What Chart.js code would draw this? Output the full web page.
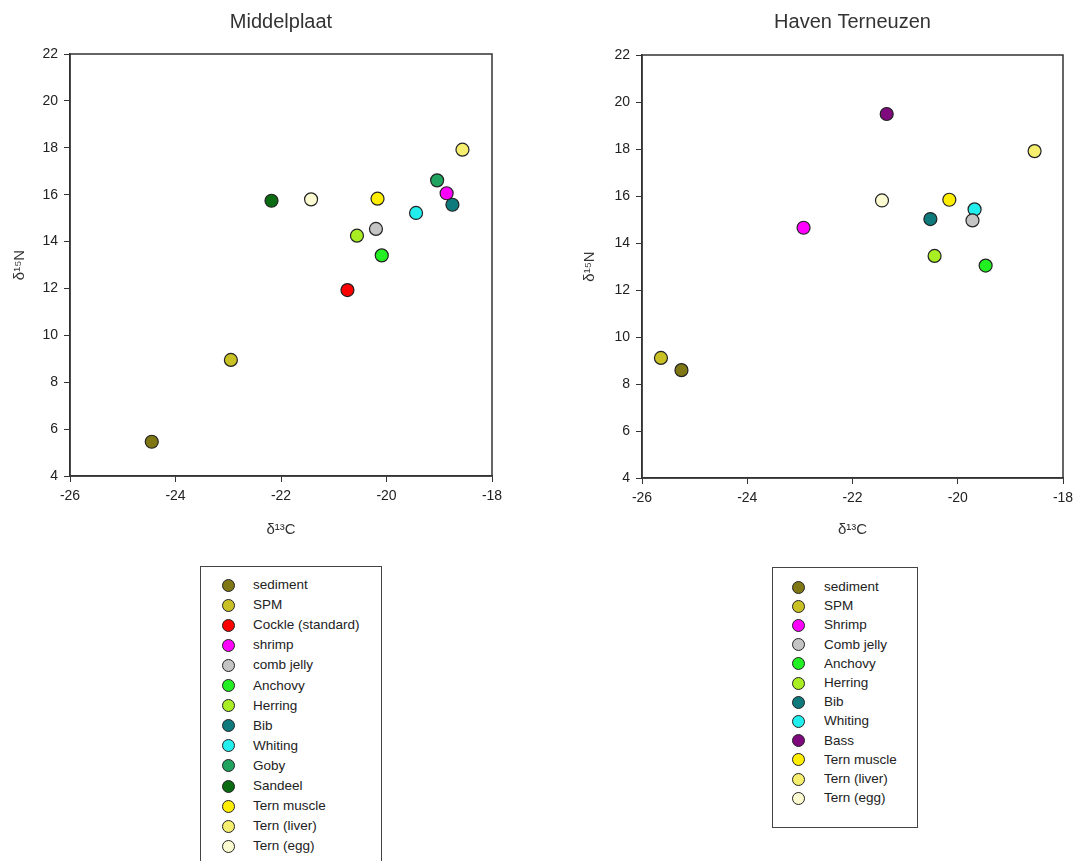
<!DOCTYPE html>
<html>
<head>
<meta charset="utf-8">
<script src="https://cdn.jsdelivr.net/npm/chart.js@4.4.0/dist/chart.umd.min.js"></script>
<style>
  html, body { margin: 0; background: #fff; overflow: hidden; font-family: Arial, "Liberation Sans", sans-serif; }
  body { width: 1075px; height: 861px; position: relative; }
  .panel { position: absolute; top: 0; height: 560px; }
  .legend { position: absolute; border: 1px solid #444; box-sizing: border-box; background: #fff; }
  .legend .dot { position: absolute; width: 13px; height: 13px; border-radius: 50%;
                 border: 1.2px solid #222; box-sizing: border-box; }
  .legend .lbl { position: absolute; font-size: 13.5px; color: #222; line-height: 20px; white-space: nowrap; }
</style>
</head>
<body>
<div class="panel" style="left:0;width:530px"><canvas id="mid"></canvas></div>
<div class="panel" style="left:545px;width:530px"><canvas id="hav"></canvas></div>
<div class="legend" id="midLegend" style="left:200px;top:566px;width:182px;height:310px"></div>
<div class="legend" id="havLegend" style="left:772px;top:567px;width:146px;height:261px"></div>

<script>
// Middelplaat
const midNames = ['sediment', 'SPM', 'Cockle (standard)', 'shrimp', 'comb jelly', 'Anchovy', 'Herring',
                  'Bib', 'Whiting', 'Goby', 'Sandeel', 'Tern muscle', 'Tern (liver)', 'Tern (egg)'];
const midColors = ['#7f7614', '#c9c124', '#ff0000', '#ff00ff', '#c4c4c4', '#22f022', '#a8ee22',
                   '#0e7a7c', '#22eeee', '#1fa35f', '#0b6b12', '#ffee00', '#f6ee6e', '#fbfad0'];
const midX = [-24.45, -22.95, -20.74, -18.86, -20.2, -20.09, -20.56, -18.75, -19.44, -19.04, -22.18, -20.17, -18.56, -21.43];
const midY = [5.46, 8.95, 11.93, 16.06, 14.54, 13.41, 14.25, 15.57, 15.22, 16.61, 15.74, 15.83, 17.92, 15.8];

// Haven Terneuzen
const havNames = ['sediment', 'SPM', 'Shrimp', 'Comb jelly', 'Anchovy', 'Herring', 'Bib', 'Whiting',
                  'Bass', 'Tern muscle', 'Tern (liver)', 'Tern (egg)'];
const havColors = ['#7f7614', '#c9c124', '#ff00ff', '#c4c4c4', '#22f022', '#a8ee22', '#0e7a7c', '#22eeee',
                   '#7e0a7e', '#ffee00', '#f6ee6e', '#fbfad0'];
const havX = [-25.25, -25.64, -22.93, -19.72, -19.47, -20.44, -20.52, -19.68, -21.35, -20.16, -18.54, -21.44];
const havY = [8.59, 9.11, 14.65, 14.96, 13.04, 13.45, 15.02, 15.43, 19.49, 15.84, 17.91, 15.81];

const xTicks = { min: -26, max: -18, step: 2 };
const yTicks = { min: 4, max: 22, step: 2 };

// draws the box around the plot area
const frame = {
    id: 'frame',
    afterDraw(chart) {
        const a = chart.chartArea, c = chart.ctx;
        c.save();
        c.strokeStyle = '#333';
        c.lineWidth = 1.5;
        c.strokeRect(a.left, a.top, a.right - a.left, a.bottom - a.top);
        c.restore();
    }
};

function makeChart(id, title, names, colors, xs, ys, g) {
    const datasets = names.map((n, i) => ({
        label: n,
        data: [{ x: xs[i], y: ys[i] }],
        backgroundColor: colors[i],
        borderColor: '#222',
        borderWidth: 1.2,
        pointRadius: 6.5
    }));
    const axisFont = { family: 'Arial, "Liberation Sans", sans-serif', size: 14 };
    return new Chart(document.getElementById(id), {
        type: 'scatter',
        data: { datasets: datasets },
        options: {
            responsive: true,
            maintainAspectRatio: false,
            animation: false,
            layout: { padding: { left: 0, right: g.padRight, top: 0, bottom: 0 } },
            plugins: {
                legend: { display: false },
                tooltip: { enabled: false },
                title: {
                    display: true,
                    text: title,
                    fullSize: false,
                    color: '#333',
                    font: { family: 'Arial, "Liberation Sans", sans-serif', size: 20, weight: 'normal' },
                    padding: { top: 10, bottom: g.titleBottom }
                }
            },
            scales: {
                x: {
                    type: 'linear',
                    min: xTicks.min,
                    max: xTicks.max,
                    afterFit(s) { s.height = g.xHeight; s.paddingRight = 0; s.paddingLeft = 0; },
                    border: { display: true, color: '#333', width: 1.5 },
                    grid: { drawOnChartArea: false, drawTicks: true, tickLength: 6, color: '#333' },
                    ticks: { stepSize: xTicks.step, color: '#222', font: axisFont, padding: 6 },
                    title: {
                        display: true,
                        text: 'δ¹³C',
                        color: '#333',
                        font: { family: 'Arial, "Liberation Sans", sans-serif', size: 15 },
                        padding: { top: 0, bottom: 21 }
                    }
                },
                y: {
                    type: 'linear',
                    min: yTicks.min,
                    max: yTicks.max,
                    afterFit(s) { s.width = g.yWidth; },
                    border: { display: true, color: '#333', width: 1.5 },
                    grid: { drawOnChartArea: false, drawTicks: true, tickLength: 6, color: '#333' },
                    ticks: { stepSize: yTicks.step, color: '#222', font: axisFont, padding: 6 },
                    title: {
                        display: true,
                        text: 'δ¹⁵N',
                        color: '#333',
                        font: { family: 'Arial, "Liberation Sans", sans-serif', size: 15 },
                        padding: { top: g.yTitlePad, bottom: 0 }
                    }
                }
            }
        },
        plugins: [frame]
    });
}

function makeLegend(id, names, colors, g) {
    const box = document.getElementById(id);
    names.forEach((n, i) => {
        const cy = g.first + i * g.step;
        const dot = document.createElement('div');
        dot.className = 'dot';
        dot.style.left = (g.dotX - 6.5) + 'px';
        dot.style.top = (cy - 6.5) + 'px';
        dot.style.background = colors[i];
        box.appendChild(dot);
        const lbl = document.createElement('div');
        lbl.className = 'lbl';
        lbl.style.left = g.textX + 'px';
        lbl.style.top = (cy - 10) + 'px';
        lbl.textContent = n;
        box.appendChild(lbl);
    });
}

makeChart('mid', 'Middelplaat', midNames, midColors, midX, midY,
    { padRight: 38, titleBottom: 20, xHeight: 84, yWidth: 70, yTitlePad: 11 });
makeChart('hav', 'Haven Terneuzen', havNames, havColors, havX, havY,
    { padRight: 12, titleBottom: 21, xHeight: 82, yWidth: 97, yTitlePad: 36 });

makeLegend('midLegend', midNames, midColors, { first: 18, step: 20.1, dotX: 27, textX: 52 });
makeLegend('havLegend', havNames, havColors, { first: 19, step: 19.2, dotX: 25, textX: 51 });
</script>
</body>
</html>
